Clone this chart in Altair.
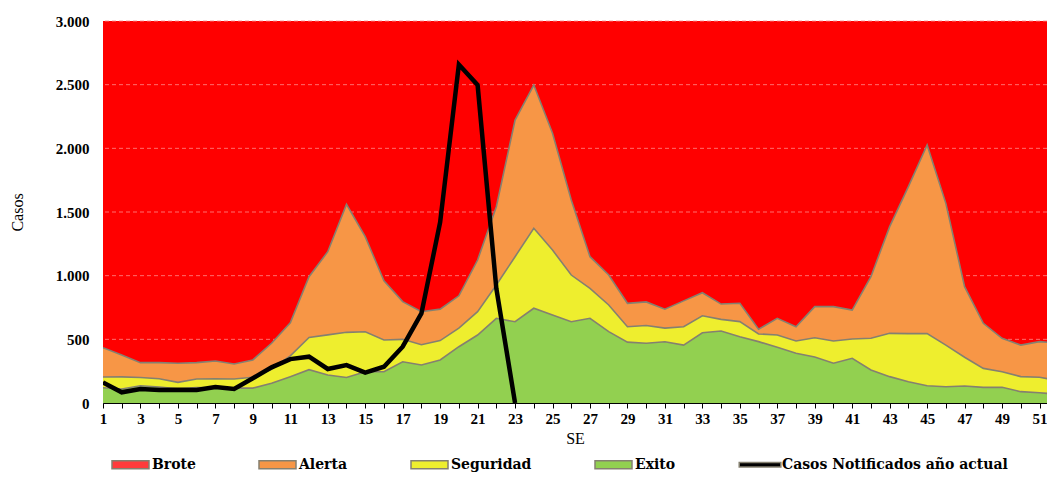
import altair as alt
import pandas as pd

semanas = list(range(1, 53))

# Upper limit of each zone (cumulative thresholds of the endemic channel)
alerta = [434, 377, 317, 317, 312, 317, 330, 306, 338, 469,
          630, 992, 1188, 1560, 1306, 960, 796, 717, 737, 842,
          1123, 1541, 2222, 2497, 2118, 1594, 1149, 1005, 783, 794,
          737, 802, 866, 777, 783, 579, 665, 599, 757, 757,
          730, 992, 1385, 1699, 2026, 1568, 914, 626, 508, 455,
          482, 470]
seguridad = [204, 205, 200, 190, 162, 188, 190, 188, 202, 265,
             370, 515, 535, 555, 560, 495, 500, 458, 490, 588,
             717, 927, 1149, 1372, 1201, 1005, 900, 770, 599, 609,
             588, 599, 685, 657, 639, 542, 534, 487, 512, 487,
             503, 508, 547, 545, 545, 455, 359, 272, 246, 207,
             202, 175]
exito = [120, 110, 135, 125, 112, 122, 120, 117, 117, 155,
         207, 262, 220, 200, 246, 246, 324, 298, 338, 442,
         534, 665, 638, 744, 691, 638, 665, 560, 478, 469,
         481, 455, 552, 565, 521, 482, 437, 390, 362, 312,
         351, 259, 207, 167, 136, 128, 133, 123, 123, 89,
         81, 68]
casos = [162, 84, 110, 102, 105, 102, 126, 110, 194, 280,
         345, 364, 267, 298, 238, 285, 442, 704, 1420, 2658,
         2497, 900, 0] + [None] * 29

series = ["Brote", "Alerta", "Seguridad", "Exito", "Casos Notificados año actual"]
colores = ["#ff3b3b", "#f79646", "#eeee2e", "#92d050", "#000000"]
formas = ["M-1,-0.22H1V0.22H-1Z", "M-1,-0.22H1V0.22H-1Z", "M-1,-0.22H1V0.22H-1Z",
          "M-1,-0.22H1V0.22H-1Z", "M-1.15,-0.12H1.1V0.12H-1.15Z"]

y_ticks = [0, 500, 1000, 1500, 2000, 2500, 3000]
grid_vals = [500, 1000, 1500, 2000, 2500, 3000]
x_ticks = list(range(1, 52))
Y_MAX = 3000

df = pd.DataFrame({"semana": semanas, "alerta": alerta, "seguridad": seguridad,
                   "exito": exito, "casos": casos})
grid_df = pd.DataFrame({"v": grid_vals})
leg_df = pd.DataFrame({"serie": series})

FONT = "Liberation Serif"
LFONT = "DejaVu Serif"
BORDER = "#858070"

xscale = alt.Scale(domain=[1, 51.4], nice=False, zero=False)
yscale = alt.Scale(domain=[0, Y_MAX], nice=False)

x_axis = alt.Axis(values=x_ticks, tickCount=len(x_ticks) + 10,
                  labelExpr="datum.value % 2 == 1 ? datum.label : ''",
                  tickSize=5, tickColor="black", domainColor="black", domainWidth=1.2,
                  grid=False, labelFont=FONT, labelFontWeight="bold", labelFontSize=15,
                  labelColor="black", labelPadding=3, labelFlush=False, labelOverlap=False,
                  labelBound=False,
                  title="SE", titleFont=FONT, titleFontWeight="normal", titleFontSize=16,
                  titleColor="black", titlePadding=4)
y_axis = alt.Axis(values=y_ticks, tickCount=len(y_ticks) + 5,
                  labelExpr="replace(format(datum.value, ','), ',', '.')",
                  tickSize=0, domainColor="black", domainWidth=1, grid=False,
                  labelFont=FONT, labelFontWeight="bold", labelFontSize=15, labelColor="black",
                  labelPadding=14, labelOverlap=False, title="Casos", titleFont=FONT,
                  titleFontWeight="normal", titleFontSize=16, titleColor="black", titlePadding=30)


def X():
    return alt.X("semana:Q", scale=xscale, axis=x_axis)


def Y(campo):
    return alt.Y(campo, scale=yscale, axis=y_axis)


base = alt.Chart(df)

brote = base.mark_area(color="#ff0000", clip=True).encode(
    x=X(), y=Y("alerta:Q"), y2=alt.datum(Y_MAX))

grid = alt.Chart(grid_df).mark_rule(color="#ff8a8a", strokeWidth=0.8, strokeDash=[4, 3]).encode(
    y=Y("v:Q"))


def zona(campo, color):
    return base.mark_area(color=color, clip=True, opacity=1,
                          line={"color": BORDER, "strokeWidth": 1.6}).encode(
        x=X(), y=Y(f"{campo}:Q"))


z_alerta = zona("alerta", "#f79646")
z_seg = zona("seguridad", "#eeee2e")
z_exito = zona("exito", "#92d050")

linea = base.mark_line(color="black", strokeWidth=4.5, clip=True, strokeJoin="miter").encode(
    x=X(), y=Y("casos:Q"))

leyenda = alt.Chart(leg_df).mark_point(filled=True, opacity=1, size=1369, clip=True,
                                        stroke=BORDER, strokeWidth=0.8).encode(
    x=alt.datum(-10, scale=xscale),
    y=alt.datum(-1000),
    color=alt.Color("serie:N", scale=alt.Scale(domain=series, range=colores),
                    legend=alt.Legend(title=None, orient="none", direction="horizontal",
                                      legendX=8, legendY=424, symbolSize=1369,
                                      labelFont=LFONT, labelFontWeight="bold", labelFontSize=14,
                                      labelColor="black", labelOffset=2, columnPadding=60,
                                      labelLimit=400, symbolStrokeColor=BORDER)),
    shape=alt.Shape("serie:N", scale=alt.Scale(domain=series, range=formas)))

chart = alt.layer(brote, grid, z_alerta, z_seg, z_exito, linea, leyenda).properties(
    width=944, height=382,
    autosize=alt.AutoSizeParams(type="none"),
    padding={"left": 95, "top": 13, "right": 0, "bottom": 72},
).configure_view(stroke=None).configure(background="white")

chart.save("out.html", embed_options={"renderer": "svg", "actions": False})
